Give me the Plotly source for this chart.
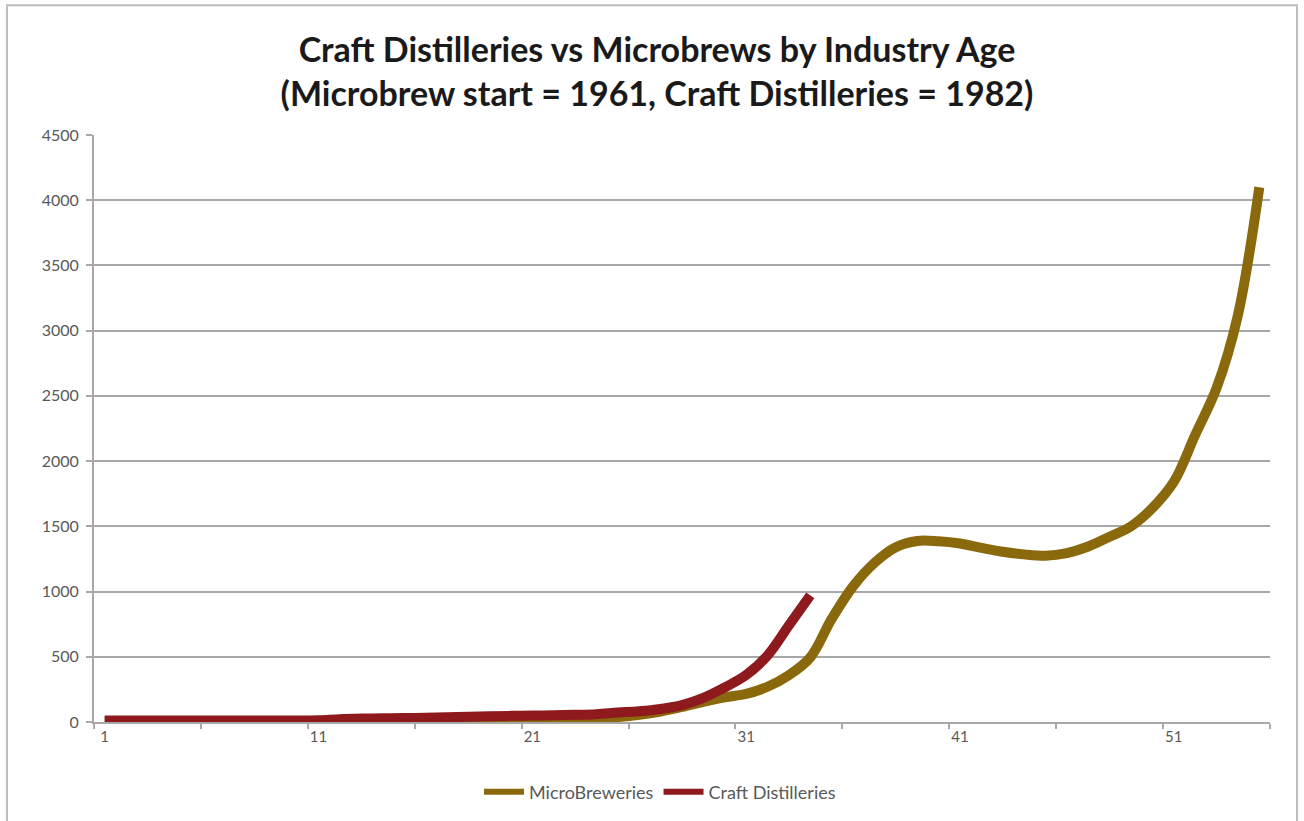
import plotly.graph_objects as go

# Industry age in years (year 1 = founding year of each industry)
age = list(range(1, 56))

# Number of microbreweries by industry age (start = 1961)
microbreweries = [
    0, 0, 0, 0, 0, 0, 0, 0, 0, 0,
    0, 0, 0, 0, 1, 2, 3, 4, 5, 7,
    10, 14, 19, 27, 38, 55, 80, 115, 155, 190,
    215, 270, 360, 495, 790, 1040, 1220, 1340, 1388, 1385,
    1368, 1335, 1305, 1285, 1275, 1295, 1345, 1420, 1500, 1640,
    1840, 2200, 2560, 3120, 4100,
]

# Number of craft distilleries by industry age (start = 1982)
craft_distilleries = [
    12, 12, 12, 12, 12, 12, 12, 12, 12, 12,
    14, 22, 26, 28, 30, 33, 36, 40, 44, 47,
    49, 52, 55, 60, 72, 82, 100, 130, 185, 265,
    360, 510, 740, 970,
]

x_tick_labels = [1, 11, 21, 31, 41, 51]
y_ticks = list(range(0, 4501, 500))

BROWN = "#8A690D"
RED = "#8E1A1E"
GRID = "#A8A8A8"
TEXT = "#595959"

fig = go.Figure()

fig.add_trace(go.Scatter(
    x=age[:len(microbreweries)], y=microbreweries, mode="lines",
    line=dict(color=BROWN, width=10, shape="spline", smoothing=1.0),
    name="MicroBreweries", showlegend=False,
))
fig.add_trace(go.Scatter(
    x=age[:len(craft_distilleries)], y=craft_distilleries, mode="lines",
    line=dict(color=RED, width=10, shape="spline", smoothing=1.0),
    name="Craft Distilleries", showlegend=False,
))

# Legend entries with a slimmer line sample
fig.add_trace(go.Scatter(x=[None], y=[None], mode="lines",
                         line=dict(color=BROWN, width=6), name="MicroBreweries"))
fig.add_trace(go.Scatter(x=[None], y=[None], mode="lines",
                         line=dict(color=RED, width=6), name="Craft Distilleries"))

# Plot area in pixels: left 94, right 1270, top 135, bottom 723
L, R, T, B = 94, 1270, 135, 723
W, H = 1304, 821
pw, ph = R - L, B - T


def px_x(p):
    return (p - L) / pw


def px_y(p):
    return (B - p) / ph


fig.update_layout(
    width=W, height=H,
    margin=dict(l=L, r=W - R, t=T, b=H - B),
    paper_bgcolor="white", plot_bgcolor="white",
    title=dict(
        text="Craft Distilleries vs Microbrews by Industry Age<br>(Microbrew start = 1961, Craft Distilleries = 1982)",
        x=657 / W, xanchor="center",
        y=1 - 62 / H, yanchor="middle",
        font=dict(family="Lato", size=34, color="#1a1a1a", weight="bold"),
    ),
    font=dict(family="Lato", color=TEXT),
    legend=dict(
        orientation="h", x=px_x(660), xanchor="center",
        y=px_y(792), yanchor="middle",
        font=dict(family="Lato", size=18, color=TEXT),
        itemwidth=40, tracegroupgap=0,
        bgcolor="rgba(0,0,0,0)",
    ),
    xaxis=dict(
        range=[0.5, 55.5],
        tickmode="array", tickvals=x_tick_labels,
        ticktext=[str(v) for v in x_tick_labels],
        ticks="", showgrid=False, zeroline=False,
        showline=True, linecolor=GRID, linewidth=2,
        tickfont=dict(family="Lato", size=15, color=TEXT),
        minor=dict(tickvals=[0.5 + 5 * k for k in range(12)],
                   ticks="outside", ticklen=5, tickcolor=GRID,
                   tickwidth=2, showgrid=False),
    ),
    yaxis=dict(
        range=[0, 4500],
        tickmode="array", tickvals=y_ticks,
        ticktext=[str(v) for v in y_ticks],
        ticks="outside", ticklen=6, tickcolor=GRID, tickwidth=2,
        showgrid=True, gridcolor=GRID, gridwidth=2,
        zeroline=False, showline=True, linecolor=GRID, linewidth=2,
        tickfont=dict(family="Lato", size=16, color=TEXT),
        ticklabelstandoff=4,
    ),
    shapes=[
        dict(type="rect", xref="paper", yref="paper",
             x0=px_x(7), x1=px_x(1297), y0=px_y(830), y1=px_y(5),
             line=dict(color="#BDBDBD", width=2), fillcolor="rgba(0,0,0,0)",
             layer="below"),
    ],
)

fig.write_html("out.html")
